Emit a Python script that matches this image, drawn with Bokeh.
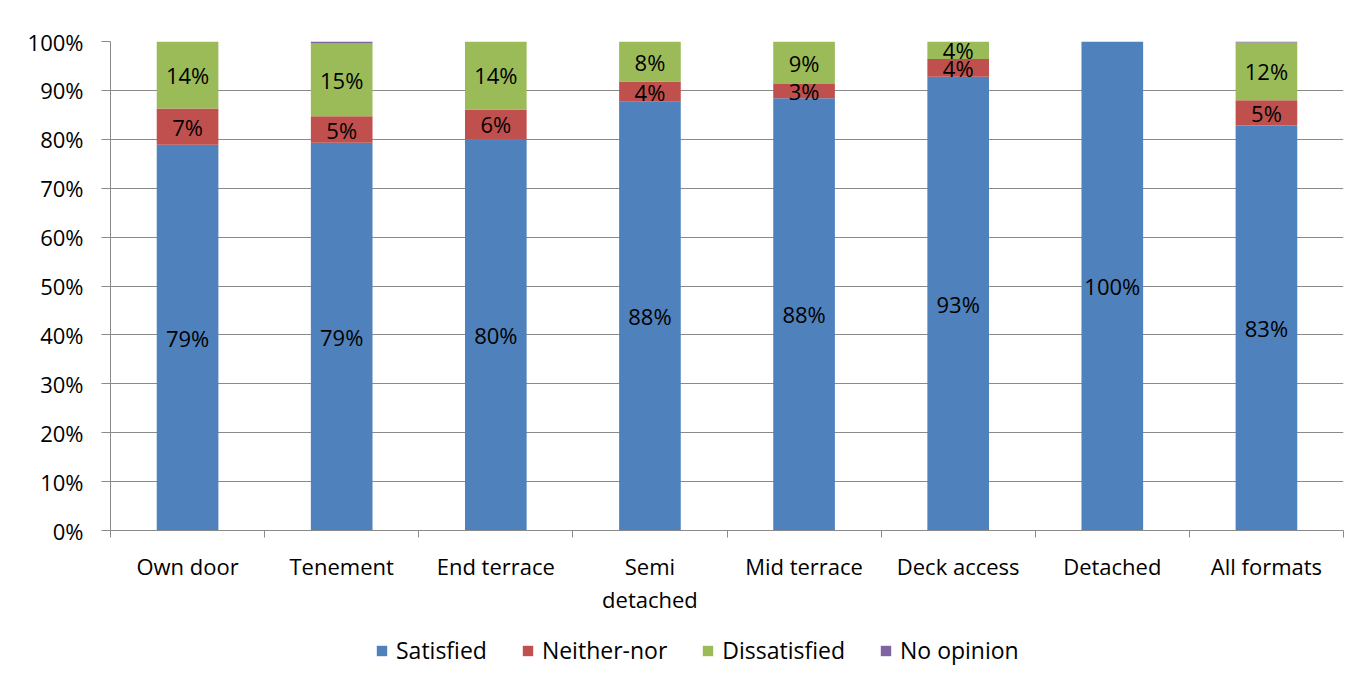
from bokeh.plotting import figure
from bokeh.layouts import column
from bokeh.models import ColumnDataSource, FixedTicker, Legend, LegendItem, Range1d
from bokeh.core.properties import value
from bokeh.embed import file_html
from bokeh.resources import INLINE

categories = ["Own door", "Tenement", "End terrace", "Semi\ndetached", "Mid terrace",
              "Deck access", "Detached", "All formats"]
satisfied = [78.9, 79.3, 80.0, 87.7, 88.4, 92.8, 100.0, 82.8]
neither = [7.4, 5.4, 6.1, 4.1, 2.9, 3.6, 0.0, 5.2]
dissatisfied = [13.7, 14.9, 13.9, 8.2, 8.7, 3.6, 0.0, 11.8]
no_opinion = [0.0, 0.4, 0.0, 0.0, 0.0, 0.0, 0.0, 0.2]
y_ticks = [0, 10, 20, 30, 40, 50, 60, 70, 80, 90, 100]

series = ["Satisfied", "Neither-nor", "Dissatisfied", "No opinion"]
colors = ["#4F81BD", "#C0504D", "#9BBB59", "#8064A2"]
FONT = "Open Sans"
FS = "22px"

xs = [i + 0.5 for i in range(len(categories))]
data = dict(x=xs, s=satisfied, n=neither, d=dissatisfied, o=no_opinion)
src = ColumnDataSource(data)

p = figure(width=1360, height=630, output_backend="svg", toolbar_location=None,
           x_range=Range1d(0, len(categories)), y_range=Range1d(0, 100),
           min_border_left=110, min_border_right=17, min_border_top=41, min_border_bottom=100)
p.outline_line_color = None
p.background_fill_color = "white"
p.border_fill_color = "white"

rs = p.vbar_stack(["s", "n", "d", "o"], x="x", width=0.4, source=src,
                  color=colors, line_color=None)

# data labels
lx, ly, lt = [], [], []
for i in range(len(categories)):
    base = 0.0
    for vals in (satisfied, neither, dissatisfied):
        v = vals[i]
        if v > 0:
            lx.append(xs[i])
            ly.append(base + v / 2)
            lt.append(f"{round(v)}%")
        base += v
p.text(x=lx, y=ly, text=lt, text_align="center", text_baseline="middle",
       text_font=value(FONT), text_font_size=FS, text_color="black")

# axes
p.xgrid.visible = False
p.ygrid.grid_line_color = "#8a8a8a"
p.ygrid.grid_line_width = 1

p.yaxis.ticker = FixedTicker(ticks=y_ticks)
p.yaxis.major_label_overrides = {t: f"{t}%" for t in y_ticks}
p.yaxis.axis_line_color = "#8a8a8a"
p.yaxis.major_tick_line_color = "#8a8a8a"
p.yaxis.major_tick_out = 9
p.yaxis.major_tick_in = 0
p.yaxis.minor_tick_line_color = None
p.yaxis.major_label_text_font = FONT
p.yaxis.major_label_text_font_size = FS
p.yaxis.major_label_text_color = "black"
p.yaxis.major_label_standoff = 18

p.xaxis.ticker = FixedTicker(ticks=xs, minor_ticks=list(range(len(categories) + 1)))
p.xaxis.major_label_overrides = {x: c for x, c in zip(xs, categories)}
p.xaxis.axis_line_color = "#8a8a8a"
p.xaxis.major_tick_line_color = None
p.xaxis.major_tick_out = 0
p.xaxis.major_tick_in = 0
p.xaxis.minor_tick_line_color = "#8a8a8a"
p.xaxis.minor_tick_out = 7
p.xaxis.minor_tick_in = 0
p.xaxis.major_label_text_font = FONT
p.xaxis.major_label_text_font_size = FS
p.xaxis.major_label_text_color = "black"
p.xaxis.major_label_standoff = 13
p.xaxis.major_label_text_line_height = 1.1

# legend in its own strip below the chart (zero-height swatch glyphs)
lg = figure(width=1360, height=44, output_backend="svg", toolbar_location=None,
            x_axis_type=None, y_axis_type=None,
            x_range=Range1d(0, 1), y_range=Range1d(0, 1),
            min_border_left=0, min_border_right=0, min_border_top=0, min_border_bottom=0)
lg.outline_line_color = None
lg.grid.visible = False
lrs = [lg.vbar(x=[0.5], top=[0], bottom=[0], width=0.1, color=c, line_color=None)
       for c in colors]
legend = Legend(items=[LegendItem(label=s, renderers=[r]) for s, r in zip(series, lrs)],
                orientation="horizontal", location=(265, 8))
legend.label_text_font = FONT
legend.label_text_font_size = "23px"
legend.label_text_color = "black"
legend.glyph_width = 13
legend.glyph_height = 13
legend.label_standoff = 8
legend.spacing = 34
legend.padding = 0
legend.margin = 0
legend.border_line_color = None
legend.background_fill_alpha = 0
lg.add_layout(legend, "center")

layout = column(p, lg, spacing=0)
open("out.html", "w").write(file_html(layout, INLINE))
